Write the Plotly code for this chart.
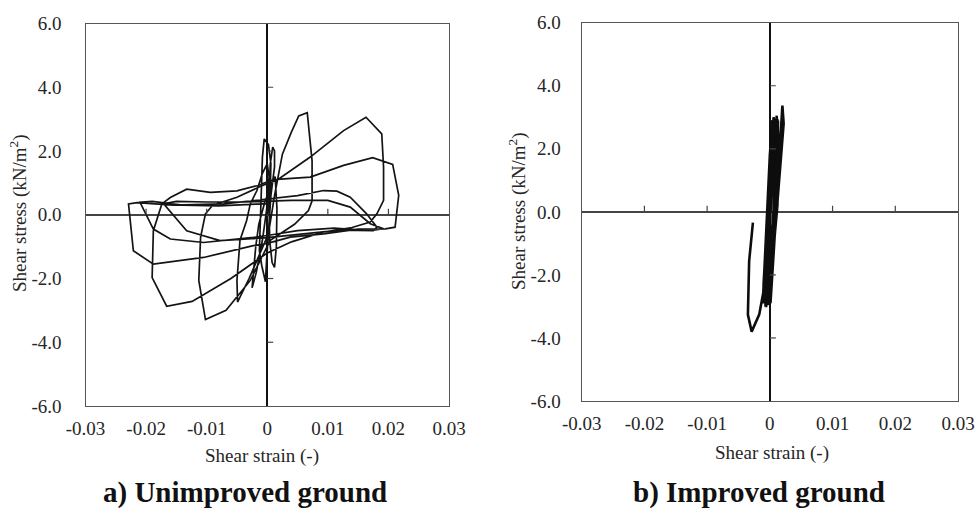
import plotly.graph_objects as go

# ---------------- data: a) Unimproved ground ----------------
strain_a = [
    0.0000, 0.0005, 0.0006, 0.0002, -0.0005, -0.0008, -0.0010, -0.0012, -0.0013, -0.0009,
    -0.0003, -0.0001, 0.0002, 0.0006, 0.0012, 0.0012, 0.0009, 0.0005, 0.0003, 0.0004,
    0.0008, 0.0012, 0.0015, 0.0016, 0.0013, 0.0006, -0.0004, -0.0014, -0.0019, -0.0025,
    -0.0018, -0.0008, 0.0000, 0.0003, 0.0000, -0.0008, -0.0017, -0.0028, -0.0034, -0.0045,
    -0.0050, -0.0049, -0.0030, -0.0012, 0.0002, 0.0012, 0.0025, 0.0040, 0.0052, 0.0066,
    0.0070, 0.0074, 0.0074, 0.0068, 0.0045, 0.0005, -0.0028, -0.0068, -0.0102, -0.0113,
    -0.0110, -0.0102, -0.0090, -0.0050, -0.0010, 0.0016, 0.0071, 0.0126, 0.0163, 0.0189,
    0.0192, 0.0192, 0.0181, 0.0170, 0.0140, 0.0093, 0.0040, 0.0000, -0.0060, -0.0124,
    -0.0166, -0.0190, -0.0188, -0.0174, -0.0160, -0.0133, -0.0094, -0.0050, -0.0017, 0.0010,
    0.0071, 0.0126, 0.0174, 0.0207, 0.0217, 0.0211, 0.0195, 0.0150, 0.0093, 0.0038,
    0.0000, -0.0023, -0.0105, -0.0188, -0.0221, -0.0229, -0.0215, -0.0155, -0.0072, -0.0017,
    0.0050, 0.0093, 0.0115, 0.0137, 0.0164, 0.0181, 0.0175, 0.0120, 0.0060, 0.0000,
    -0.0078, -0.0133, -0.0171, -0.0150, -0.0100, -0.0040, 0.0040, 0.0100, 0.0137, 0.0170,
    0.0192, 0.0170, 0.0110, 0.0050, 0.0000, -0.0023, -0.0105, -0.0160, -0.0188, -0.0210,
    -0.0190, -0.0140, -0.0080, -0.0020, 0.0000,
]
stress_a = [
    0.00, 0.80, 1.60, 2.20, 2.38, 1.80, 0.60, -0.60, -1.13, -1.60,
    -2.10, -1.40, -0.40, 0.60, 1.50, 2.00, 2.12, 1.60, 0.40, -0.80,
    -1.50, -1.65, -1.00, 0.20, 1.20, 0.90, 0.40, -0.30, -1.00, -2.29,
    -1.80, -0.80, 0.30, 1.20, 1.60, 1.30, 0.76, 0.34, -0.18, -0.80,
    -2.06, -2.74, -2.00, -1.20, -0.60, 0.60, 1.90, 2.60, 3.10, 3.20,
    2.53, 1.69, 0.44, 0.13, -0.30, -0.80, -2.06, -3.00, -3.29, -2.06,
    -0.70, 0.03, 0.30, 0.55, 0.90, 1.08, 1.81, 2.64, 3.06, 2.54,
    1.49, 0.45, 0.03, -0.23, -0.40, -0.54, -0.85, -1.20, -2.00, -2.72,
    -2.87, -1.97, -0.50, 0.34, 0.54, 0.80, 0.70, 0.75, 0.91, 1.10,
    1.18, 1.55, 1.79, 1.58, 0.61, -0.39, -0.44, -0.45, -0.60, -0.70,
    -0.90, -0.97, -1.34, -1.55, -1.13, 0.34, 0.38, 0.30, 0.34, 0.45,
    0.60, 0.76, 0.74, 0.55, 0.03, -0.39, -0.50, -0.48, -0.60, -0.72,
    -0.81, -0.50, 0.34, 0.42, 0.40, 0.40, 0.45, 0.45, 0.24, -0.28,
    -0.44, -0.50, -0.42, -0.50, -0.65, -0.71, -0.87, -0.76, -0.45, 0.39,
    0.42, 0.30, 0.28, 0.32, 0.35,
]

# ---------------- data: b) Improved ground ----------------
strain_b = [
    0.0000, 0.0009, 0.0010, 0.0004, -0.0004, -0.0009,
    0.0002, 0.0012, 0.0013, 0.0007, 0.0000, -0.0006, -0.0011,
    -0.0003, 0.0007, 0.0011, 0.0008, 0.0002, -0.0005, -0.0007,
    0.0000, 0.0010, 0.0014, 0.0012, 0.0005, -0.0002, -0.0006, -0.0003,
    0.0004, 0.0011, 0.0011, 0.0006, 0.0001, -0.0004, -0.0010, -0.0010,
    -0.0001, 0.0008, 0.0013, 0.0010, 0.0003, -0.0005, -0.0008,
    0.0001, 0.0009, 0.0012, 0.0008, 0.0001, -0.0003, -0.0005,
    0.0003, 0.0012, 0.0014, 0.0013, 0.0004, -0.0003, -0.0009, -0.0006,
    0.0003, 0.0009, 0.0009, 0.0004, 0.0000, -0.0006, -0.0011,
    -0.0002, 0.0006, 0.0012, 0.0011, 0.0006, -0.0001, -0.0004, 0.0001,
    0.0007, 0.0013, 0.0020, 0.0022, 0.0017, 0.0012, 0.0006, 0.0002, -0.0004,
    0.0001, 0.0007, 0.0009, 0.0006, 0.0001, -0.0004, -0.0007,
    -0.0009, -0.0017, -0.0029, -0.0035, -0.0033, -0.0027,
]
stress_b = [
    0.00, 1.50, 2.70, 1.20, -1.00, -2.70,
    -1.40, 0.80, 2.90, 2.40, 0.20, -1.60, -2.90,
    -2.00, 0.00, 2.00, 2.95, 1.00, -0.80, -3.00,
    -2.10, 0.20, 1.80, 2.80, 1.80, 0.00, -2.20, -2.95,
    -1.60, 0.60, 2.40, 3.00, 1.60, -0.20, -2.30, -2.75,
    -1.50, 0.40, 2.20, 2.90, 1.20, -0.60, -2.90,
    -1.20, 0.80, 2.95, 2.20, 0.40, -1.20, -2.80,
    -1.80, 0.20, 1.40, 2.60, 1.40, -0.30, -2.50, -3.02,
    -1.00, 1.20, 2.80, 2.90, 1.80, -0.80, -2.80,
    -1.80, -0.20, 1.60, 3.05, 1.40, -0.60, -2.60, -2.90,
    -1.00, 1.00, 3.37, 2.80, 1.40, 0.30, -1.20, -2.40, -2.95,
    -1.50, 0.00, 1.60, 2.50, 1.20, -0.60, -1.80,
    -2.41, -3.26, -3.80, -3.26, -1.56, -0.34,
]

# ---------------- axes labels ----------------
x_tick_vals = [-0.03, -0.02, -0.01, 0, 0.01, 0.02, 0.03]
x_tick_text = ["-0.03", "-0.02", "-0.01", "0", "0.01", "0.02", "0.03"]
y_tick_vals = [-6, -4, -2, 0, 2, 4, 6]
y_tick_text = ["-6.0", "-4.0", "-2.0", "0.0", "2.0", "4.0", "6.0"]
inner_x_ticks = [-0.02, -0.01, 0.01, 0.02]
inner_y_ticks = [-4, -2, 2, 4]

x_title = "Shear strain (-)"
y_title = "Shear stress (kN/m<sup>2</sup>)"
panel_titles = ["a) Unimproved ground", "b) Improved ground"]

FONT = "Liberation Serif"
TXT = "#262626"

fig = go.Figure()
fig.add_trace(go.Scatter(x=strain_a, y=stress_a, mode="lines",
                         line=dict(color="#141414", width=1.7),
                         xaxis="x", yaxis="y", showlegend=False, hoverinfo="skip"))
fig.add_trace(go.Scatter(x=strain_b, y=stress_b, mode="lines",
                         line=dict(color="#0d0d0d", width=2.6),
                         xaxis="x2", yaxis="y2", showlegend=False, hoverinfo="skip"))


def xaxis_cfg(domain, anchor):
    return dict(domain=domain, anchor=anchor, range=[-0.03, 0.03],
                tickmode="array", tickvals=x_tick_vals, ticktext=x_tick_text,
                ticks="", showgrid=False, zeroline=True, zerolinecolor="#111",
                zerolinewidth=1.6, showline=True, mirror=True, linecolor="#555",
                linewidth=1.4, automargin=False, ticklabelstandoff=5,
                tickfont=dict(family=FONT, size=19, color=TXT), fixedrange=True)


def yaxis_cfg(domain, anchor, standoff):
    return dict(domain=domain, anchor=anchor, range=[-6, 6],
                tickmode="array", tickvals=y_tick_vals, ticktext=y_tick_text,
                ticks="", showgrid=False, zeroline=True, zerolinecolor="#444",
                zerolinewidth=1.5, showline=True, mirror=True, linecolor="#555",
                linewidth=1.4, automargin=False, ticklabelstandoff=standoff,
                tickfont=dict(family=FONT, size=19, color=TXT), fixedrange=True)


W, H = 975, 508
dom_xa = [85.5 / W, 449 / W]
dom_ya = [(H - 406) / H, (H - 23.5) / H]
dom_xb = [581.7 / W, 958 / W]
dom_yb = [(H - 401) / H, (H - 22.7) / H]

shapes = []
for xr, yr in (("x", "y"), ("x2", "y2")):
    for v in inner_x_ticks:
        shapes.append(dict(type="line", xref=xr, yref=yr, x0=v, x1=v,
                           ysizemode="pixel", yanchor=0, y0=0, y1=6,
                           line=dict(color="#444", width=1.2)))
    for v in inner_y_ticks:
        shapes.append(dict(type="line", xref=xr, yref=yr, y0=v, y1=v,
                           xsizemode="pixel", xanchor=0, x0=0, x1=6,
                           line=dict(color="#444", width=1.2)))

annotations = [
    dict(text=x_title, x=262 / W, y=(H - 456) / H, xref="paper", yref="paper",
         showarrow=False, xanchor="center", yanchor="middle",
         font=dict(family=FONT, size=19, color=TXT)),
    dict(text=x_title, x=772 / W, y=(H - 453) / H, xref="paper", yref="paper",
         showarrow=False, xanchor="center", yanchor="middle",
         font=dict(family=FONT, size=19, color=TXT)),
    dict(text=y_title, x=18 / W, y=(H - 213) / H, xref="paper", yref="paper",
         showarrow=False, xanchor="center", yanchor="middle", textangle=-90,
         font=dict(family=FONT, size=19, color=TXT)),
    dict(text=y_title, x=517 / W, y=(H - 211) / H, xref="paper", yref="paper",
         showarrow=False, xanchor="center", yanchor="middle", textangle=-90,
         font=dict(family=FONT, size=19, color=TXT)),
    dict(text="<b>" + panel_titles[0] + "</b>", x=245 / W, y=(H - 492) / H,
         xref="paper", yref="paper", showarrow=False, xanchor="center",
         yanchor="middle", font=dict(family=FONT, size=29, color="#111")),
    dict(text="<b>" + panel_titles[1] + "</b>", x=759 / W, y=(H - 492) / H,
         xref="paper", yref="paper", showarrow=False, xanchor="center",
         yanchor="middle", font=dict(family=FONT, size=29, color="#111")),
]

fig.update_layout(
    width=W, height=H, autosize=False,
    margin=dict(l=0, r=0, t=0, b=0),
    paper_bgcolor="white", plot_bgcolor="white",
    xaxis=xaxis_cfg(dom_xa, "y"), yaxis=yaxis_cfg(dom_ya, "x", 19),
    xaxis2=xaxis_cfg(dom_xb, "y2"), yaxis2=yaxis_cfg(dom_yb, "x2", 16),
    shapes=shapes, annotations=annotations, showlegend=False,
)

# remove the browser's default 8px body margin so the figure sits at the page origin
fig.write_html("out.html", config={"displayModeBar": False},
               post_script="document.body.style.margin='0';document.body.style.overflow='hidden';")
